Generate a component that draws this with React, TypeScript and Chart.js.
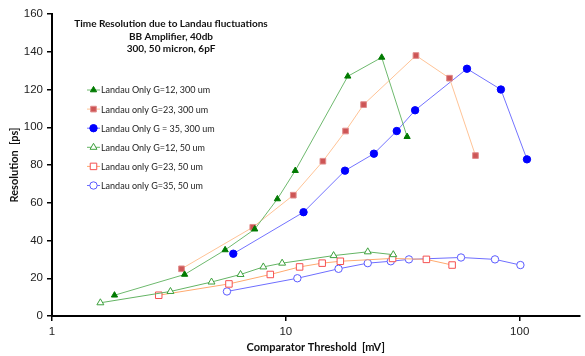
import React, { useEffect, useRef } from "react";
import { Chart, registerables } from "chart.js";
import { drawPoint } from "chart.js/helpers";

Chart.register(...registerables);

const titleLines = [
  "Time Resolution due to Landau fluctuations",
  "BB Amplifier, 40db",
  "300, 50 micron, 6pF",
];

const xTickValues = [1, 10, 100];
const yTickStep = 20;

const seriesNames = [
  "Landau Only G=12, 300 um",
  "Landau only G=23, 300 um",
  "Landau Only G = 35, 300 um",
  "Landau Only G=12, 50 um",
  "Landau only G=23, 50 um",
  "Landau only G=35, 50 um",
];

const g12_300_x = [1.85, 3.69, 5.5, 7.36, 9.2, 10.97, 18.4, 25.7, 33];
const g12_300_y = [11, 22, 35, 46, 62, 77, 127, 137, 95];

const g23_300_x = [3.58, 7.22, 10.76, 14.4, 18.0, 21.5, 36, 50.1, 64.7];
const g23_300_y = [25, 47, 64, 82, 98, 112, 138, 126, 85];

const g35_300_x = [5.96, 11.9, 17.9, 23.8, 29.8, 35.7, 59.5, 83.1, 107.4];
const g35_300_y = [33, 55, 77, 86, 98, 109, 131, 120, 83];

const g12_50_x = [1.61, 3.21, 4.81, 6.4, 8.01, 9.64, 16.0, 22.4, 28.8];
const g12_50_y = [7, 13, 18, 22, 26, 28, 32, 34, 32.5];

const g23_50_x = [2.86, 5.71, 8.58, 11.45, 14.3, 17.1, 28.6, 39.9, 51.4];
const g23_50_y = [11, 17, 22, 26, 28, 29, 30.5, 30, 27];

const g35_50_x = [5.6, 11.2, 16.8, 22.4, 28.1, 33.6, 56.1, 78.4, 100.7];
const g35_50_y = [13, 20, 25, 28, 29, 30, 31, 30, 27];

const toPoints = (xs: number[], ys: number[]) => xs.map((x, i) => ({ x, y: ys[i] }));

const overlayPlugin = {
  id: "overlay",
  afterDraw(chart: any) {
    const ctx = chart.ctx;
    const area = chart.chartArea;
    ctx.save();
    // title
    ctx.fillStyle = "#111";
    ctx.textAlign = "center";
    ctx.textBaseline = "middle";
    ctx.font = "bold 10px Lato";
    titleLines.forEach((t, i) => {
      ctx.fillText(t, area.left + 119, area.top + 10 + i * 12.3);
    });
    // legend
    ctx.textAlign = "left";
    ctx.font = "9px Lato";
    chart.data.datasets.forEach((ds: any, i: number) => {
      const y = area.top + 76 + i * 19.1;
      const x0 = area.left + 35;
      ctx.strokeStyle = ds.borderColor;
      ctx.lineWidth = 1;
      ctx.beginPath();
      ctx.moveTo(x0, y);
      ctx.lineTo(x0 + 13, y);
      ctx.stroke();
      ctx.fillStyle = ds.pointBackgroundColor;
      ctx.strokeStyle = ds.pointBorderColor;
      ctx.lineWidth = ds.pointBorderWidth;
      drawPoint(ctx, { pointStyle: ds.pointStyle, radius: ds.pointRadius, rotation: 0, borderWidth: ds.pointBorderWidth }, x0 + 6.5, y);
      ctx.fillStyle = "#222";
      ctx.fillText(ds.label, x0 + 14, y + 0.5);
    });
    ctx.restore();
  },
};

export default function App() {
  const ref = useRef<HTMLCanvasElement | null>(null);
  useEffect(() => {
    if (!ref.current) return;
    const chart = new Chart(ref.current, {
      type: "scatter",
      data: {
        datasets: [
          {
            label: seriesNames[0],
            data: toPoints(g12_300_x, g12_300_y),
            showLine: true,
            borderColor: "rgb(110,185,110)",
            borderWidth: 1,
            pointStyle: "triangle",
            pointRadius: 3.6,
            pointBackgroundColor: "#007a00",
            pointBorderColor: "#007a00",
            pointBorderWidth: 1,
          },
          {
            label: seriesNames[1],
            data: toPoints(g23_300_x, g23_300_y),
            showLine: true,
            borderColor: "rgb(255,195,150)",
            borderWidth: 1,
            pointStyle: "rect",
            pointRadius: 4,
            pointBackgroundColor: "rgb(205,85,85)",
            pointBorderColor: "rgb(225,140,140)",
            pointBorderWidth: 1,
          },
          {
            label: seriesNames[2],
            data: toPoints(g35_300_x, g35_300_y),
            showLine: true,
            borderColor: "rgb(115,115,255)",
            borderWidth: 1,
            pointStyle: "circle",
            pointRadius: 3.7,
            pointBackgroundColor: "#0000ff",
            pointBorderColor: "#0000ff",
            pointBorderWidth: 1,
          },
          {
            label: seriesNames[3],
            data: toPoints(g12_50_x, g12_50_y),
            showLine: true,
            borderColor: "rgb(100,180,100)",
            borderWidth: 1,
            pointStyle: "triangle",
            pointRadius: 4,
            pointBackgroundColor: "#ffffff",
            pointBorderColor: "rgb(60,160,60)",
            pointBorderWidth: 1,
          },
          {
            label: seriesNames[4],
            data: toPoints(g23_50_x, g23_50_y),
            showLine: true,
            borderColor: "rgb(255,170,110)",
            borderWidth: 1,
            pointStyle: "rect",
            pointRadius: 4.6,
            pointBackgroundColor: "#ffffff",
            pointBorderColor: "rgb(245,80,80)",
            pointBorderWidth: 1,
          },
          {
            label: seriesNames[5],
            data: toPoints(g35_50_x, g35_50_y),
            showLine: true,
            borderColor: "rgb(110,110,255)",
            borderWidth: 1,
            pointStyle: "circle",
            pointRadius: 3.7,
            pointBackgroundColor: "#ffffff",
            pointBorderColor: "rgb(90,90,255)",
            pointBorderWidth: 1,
          },
        ],
      },
      options: {
        animation: false,
        responsive: false,
        devicePixelRatio: 1,
        layout: { padding: { top: 14, right: 0, left: 0, bottom: 0 } },
        plugins: {
          legend: { display: false },
          title: { display: false },
          tooltip: { enabled: false },
        },
        scales: {
          x: {
            type: "logarithmic",
            min: 1,
            max: 180,
            afterBuildTicks: (scale: any) => {
              scale.ticks = xTickValues.map((v) => ({ value: v, major: true }));
            },
            afterFit: (scale: any) => {
              scale.height = 40;
            },
            ticks: {
              callback: (v: any) => String(v),
              font: { family: "Liberation Sans", size: 11.5 },
              color: "#222",
              padding: 4,
              maxRotation: 0,
              autoSkip: false,
            },
            grid: { drawOnChartArea: false, color: "#000", tickLength: 5, lineWidth: 1.5 },
            border: { color: "#000", width: 2 },
            title: {
              display: true,
              text: "Comparator Threshold  [mV]",
              font: { family: "Lato", size: 11, weight: "bold" },
              color: "#111",
              padding: { top: 0, bottom: 2 },
            },
          },
          y: {
            min: 0,
            max: 160,
            ticks: {
              stepSize: yTickStep,
              font: { family: "Liberation Sans", size: 11.5 },
              color: "#222",
              padding: 4,
            },
            afterFit: (scale: any) => {
              scale.width = 52;
            },
            grid: { drawOnChartArea: false, color: "#000", tickLength: 5, lineWidth: 1.5 },
            border: { color: "#000", width: 2 },
            title: {
              display: true,
              text: "Resolution  [ps]",
              font: { family: "Lato", size: 11, weight: "bold" },
              color: "#111",
              padding: { top: 8, bottom: 0 },
            },
          },
        },
      },
      plugins: [overlayPlugin],
    });
    return () => chart.destroy();
  }, []);
  return (
    <div style={{ position: "fixed", left: 0, top: 0, width: 585, height: 356, background: "#fff" }}>
      <canvas ref={ref} width={585} height={356} />
    </div>
  );
}
